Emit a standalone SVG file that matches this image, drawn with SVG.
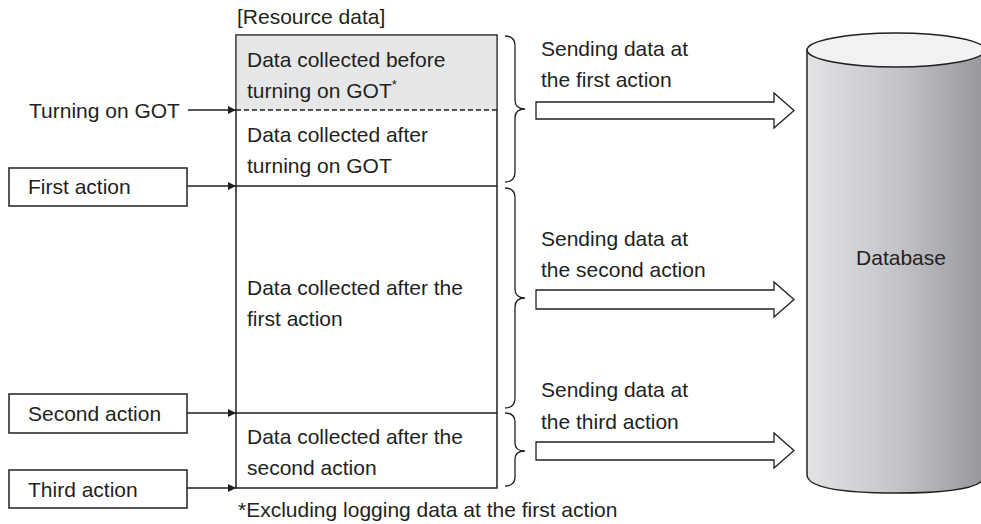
<svg xmlns="http://www.w3.org/2000/svg" width="981" height="524" viewBox="0 0 981 524">
<defs>
<marker id="ah" viewBox="0 0 8 8" refX="8" refY="4" markerWidth="8" markerHeight="8" markerUnits="userSpaceOnUse" orient="auto">
<path d="M0,0 L8,4 L0,8 z" fill="#231f20"/>
</marker>
<linearGradient id="cyl" x1="0" y1="0" x2="1" y2="0">
<stop offset="0" stop-color="#e2e3e5"/>
<stop offset="0.5" stop-color="#c4c5c8"/>
<stop offset="1" stop-color="#96979a"/>
</linearGradient>
<style>
text{font-family:"Liberation Sans",Arial,sans-serif;font-size:21px;fill:#231f20}
.box{fill:#fff;stroke:#231f20;stroke-width:1.5}
.ln{stroke:#231f20;stroke-width:1.5;fill:none}
.conn{stroke:#231f20;stroke-width:1.3;fill:none;marker-end:url(#ah)}
.brace{stroke:#231f20;stroke-width:1.3;fill:none}
.harrow{fill:#fff;stroke:#231f20;stroke-width:1.3}
</style>
</defs>
<rect width="981" height="524" fill="#fff"/>

<text x="237" y="24">[Resource data]</text>

<g id="resource-data">
<rect x="236" y="35" width="261" height="453" class="box"/>
<rect x="236.8" y="35.8" width="259.4" height="74.2" fill="#e6e7e8"/>
<line x1="236" y1="110" x2="497" y2="110" class="ln" stroke-dasharray="5,3"/>
<line x1="236" y1="186" x2="497" y2="186" class="ln"/>
<line x1="236" y1="413" x2="497" y2="413" class="ln"/>
</g>

<g id="seg-before-got">
<text x="247" y="67">Data collected before</text>
<text x="247" y="98">turning on GOT<tspan font-size="13" dy="-9">*</tspan></text>
</g>
<g id="seg-after-got">
<text x="247" y="142">Data collected after</text>
<text x="247" y="173">turning on GOT</text>
</g>
<g id="seg-after-first">
<text x="247" y="295">Data collected after the</text>
<text x="247" y="326">first action</text>
</g>
<g id="seg-after-second">
<text x="247" y="444">Data collected after the</text>
<text x="247" y="475">second action</text>
</g>

<g id="turning-on-got">
<text x="29" y="118">Turning on GOT</text>
</g>
<g id="first-action">
<rect x="9" y="168" width="178" height="38" class="box"/>
<text x="28" y="194">First action</text>
</g>
<g id="second-action">
<rect x="9" y="394" width="178" height="39" class="box"/>
<text x="28" y="421">Second action</text>
</g>
<g id="third-action">
<rect x="9" y="470" width="178" height="38" class="box"/>
<text x="28" y="497">Third action</text>
</g>

<g id="database">
<path d="M807,50 L807,475 Q808,493 896,493 Q985,493 985,475 L985,50 z" fill="url(#cyl)" stroke="#231f20" stroke-width="1.5"/>
<ellipse cx="896" cy="50" rx="89" ry="17" fill="#f1f2f3" stroke="#231f20" stroke-width="1.5"/>
<text x="901" y="265" text-anchor="middle">Database</text>
</g>

<g id="send-1">
<text x="541" y="56">Sending data at</text>
<text x="541" y="87">the first action</text>
</g>
<g id="send-2">
<text x="541" y="246">Sending data at</text>
<text x="541" y="277">the second action</text>
</g>
<g id="send-3">
<text x="541" y="397">Sending data at</text>
<text x="541" y="429">the third action</text>
</g>

<g id="connectors">
<line x1="188" y1="110" x2="236" y2="110" class="conn"/>
<line x1="187" y1="186" x2="236" y2="186" class="conn"/>
<line x1="187" y1="413" x2="236" y2="413" class="conn"/>
<line x1="187" y1="488" x2="236" y2="488" class="conn"/>
<path class="brace" d="M505,36 Q515,36 515,46 L515,100 Q515,109 525,109 Q515,109 515,118 L515,172 Q515,182 505,182"/>
<path class="brace" d="M505,188 Q515,188 515,198 L515,289 Q515,298 525,298 Q515,298 515,307 L515,398 Q515,408 505,408"/>
<path class="brace" d="M505,413 Q515,413 515,422 L515,443 Q515,451 525,451 Q515,451 515,459 L515,477 Q515,486 505,486"/>
<polygon class="harrow" points="536,102 774,102 774,93 794,110.5 774,128 774,119 536,119"/>
<polygon class="harrow" points="536,290 774,290 774,282 794,299.5 774,317 774,309 536,309"/>
<polygon class="harrow" points="536,442 774,442 774,433 794,450.5 774,468 774,460 536,460"/>
</g>

<text x="238" y="517">*Excluding logging data at the first action</text>
</svg>
